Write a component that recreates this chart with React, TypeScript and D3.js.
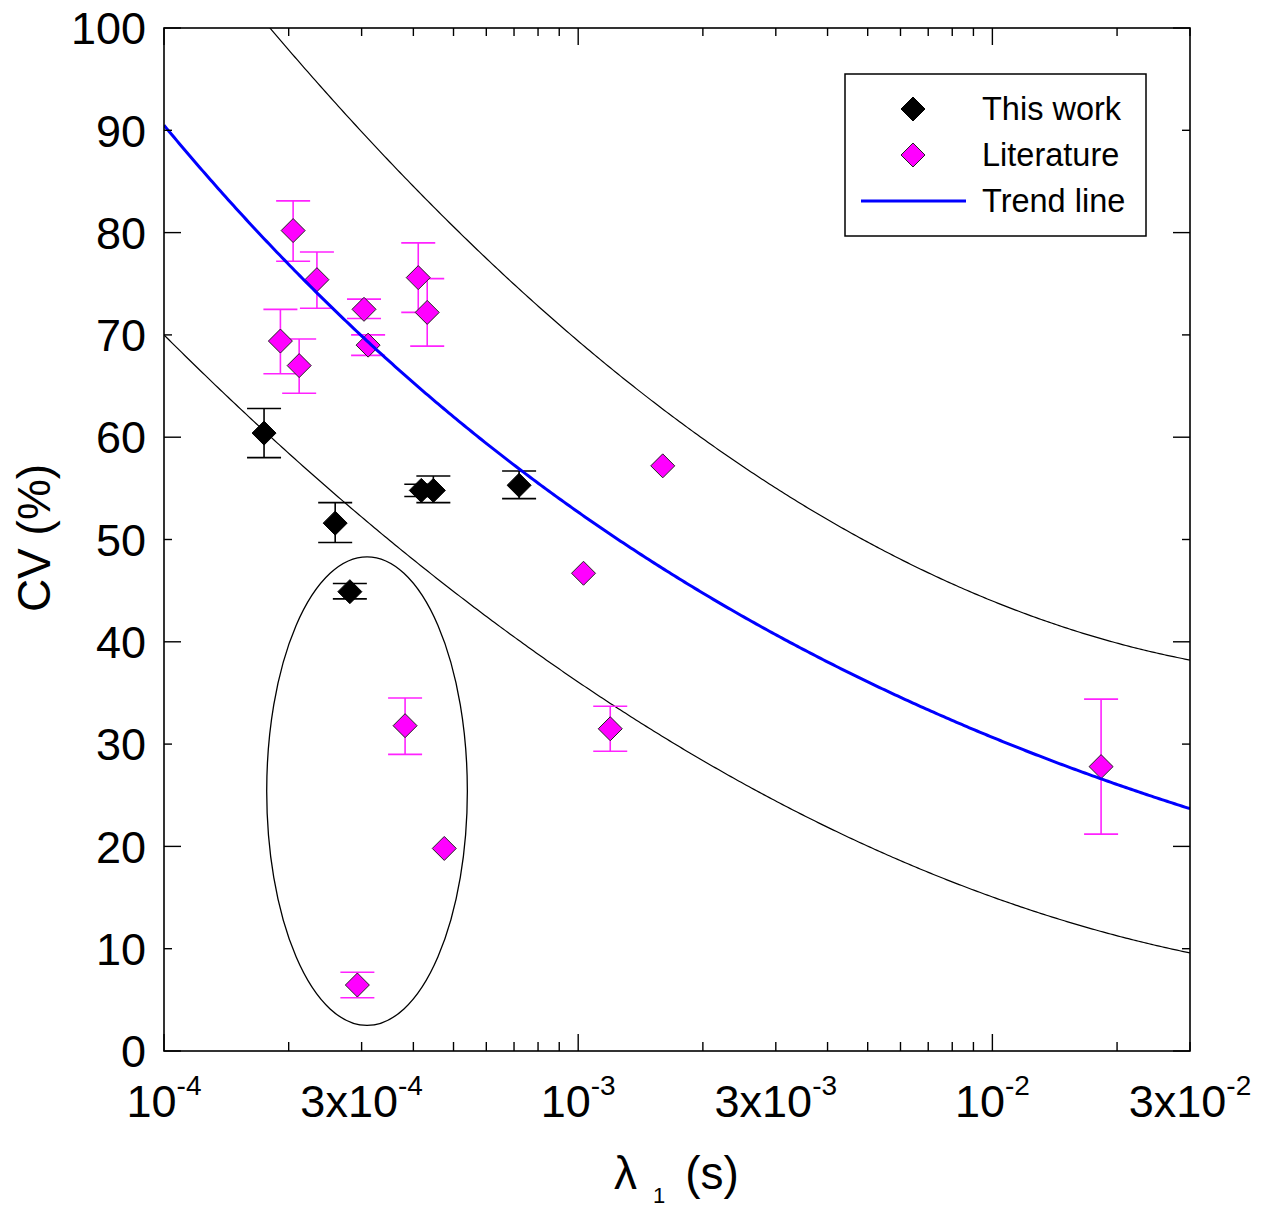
import React from "react";
import * as d3 from "d3";

// This work: relaxation time λ1 (s), CV (%), error bar top/bottom
const workLambda = [1.744e-4, 2.59e-4, 2.81e-4, 4.18e-4, 4.47e-4, 7.2e-4];
const workCV = [60.4, 51.6, 44.9, 54.8, 54.8, 55.3];
const workHi = [62.8, 53.6, 45.7, 55.4, 56.2, 56.7];
const workLo = [58.0, 49.7, 44.2, 54.2, 53.6, 54.0];

// Literature values (null = no error bar reported)
const litLambda = [
  2.05e-4, 2.34e-4, 1.91e-4, 2.12e-4, 3.04e-4, 3.11e-4, 4.11e-4, 4.32e-4,
  3.82e-4, 4.75e-4, 2.93e-4, 1.03e-3, 1.6e-3, 1.195e-3, 1.83e-2,
];
const litCV = [80.2, 75.4, 69.4, 67.0, 72.5, 69.0, 75.6, 72.2, 31.8, 19.8, 6.45, 46.7, 57.2, 31.5, 27.8];
const litHi: (number | null)[] = [83.1, 78.1, 72.5, 69.6, 73.5, 70.0, 79.0, 75.5, 34.5, null, 7.7, null, null, 33.7, 34.4];
const litLo: (number | null)[] = [77.2, 72.6, 66.2, 64.3, 71.6, 68.0, 72.2, 68.9, 29.0, null, 5.2, null, null, 29.3, 21.2];

// Axis ticks
const yTicks = [0, 10, 20, 30, 40, 50, 60, 70, 80, 90, 100];
const xLabels = [
  { v: 1e-4, pre: "10", sup: "-4" },
  { v: 3e-4, pre: "3x10", sup: "-4" },
  { v: 1e-3, pre: "10", sup: "-3" },
  { v: 3e-3, pre: "3x10", sup: "-3" },
  { v: 1e-2, pre: "10", sup: "-2" },
  { v: 3e-2, pre: "3x10", sup: "-2" },
];

// Trend line: CV = A * λ^B
const trendA = 10.39;
const trendB = -0.235;
// Envelope curves: CV = c0 + c1*u + c2*u^2, u = log10(λ / 1e-4)
const upperCoef = [112.83, -52.44, 9.01];
const lowerCoef = [70.0, -40.39, 6.46];

// Encircled group (λ range and CV range)
const groupLambda = [1.77e-4, 5.4e-4];
const groupCV = [2.5, 48.3];

const FONT = "'Liberation Sans', Arial, Helvetica, sans-serif";

export default function App() {
  const left = 164, right = 1190, top = 28, bottom = 1051;
  const x = d3.scaleLog().domain([1e-4, 3e-2]).range([left, right]);
  const y = d3.scaleLinear().domain([0, 100]).range([bottom, top]);

  const samples = d3.range(0, 401).map((i) => Math.pow(10, -4 + (Math.log10(300) * i) / 400));
  const line = d3
    .line<[number, number]>()
    .x((d) => x(d[0]))
    .y((d) => y(d[1]));
  const poly = (c: number[], l: number) => {
    const u = Math.log10(l / 1e-4);
    return c[0] + c[1] * u + c[2] * u * u;
  };
  const trendPath = line(samples.map((l) => [l, trendA * Math.pow(l, trendB)]));
  const upperPath = line(samples.map((l) => [l, poly(upperCoef, l)]));
  const lowerPath = line(samples.map((l) => [l, poly(lowerCoef, l)]));

  // minor/major x ticks
  const xMinor: number[] = [];
  const xMajor: number[] = [1e-4, 1e-3, 1e-2];
  [1e-4, 1e-3, 1e-2].forEach((dec) => {
    for (let k = 2; k <= 9; k++) {
      const v = dec * k;
      if (v <= 3e-2) xMinor.push(v);
    }
  });

  const diamond = (cx: number, cy: number, r: number) =>
    `M${cx},${cy - r}L${cx + r},${cy}L${cx},${cy + r}L${cx - r},${cy}Z`;

  const cap = 17;
  const ex = x(groupLambda[0]), ex2 = x(groupLambda[1]);
  const ey = y(groupCV[1]), ey2 = y(groupCV[0]);

  return (
    <svg
      width={1273}
      height={1208}
      style={{ position: "absolute", left: 0, top: 0, background: "#fff" }}
      fontFamily={FONT}
    >
      <defs>
        <clipPath id="plotClip">
          <rect x={left} y={top} width={right - left} height={bottom - top} />
        </clipPath>
      </defs>

      {/* envelope curves */}
      <g clipPath="url(#plotClip)" fill="none" stroke="#000" strokeWidth={1.2}>
        <path d={upperPath || ""} />
        <path d={lowerPath || ""} />
      </g>

      {/* ellipse around the group */}
      <ellipse
        cx={(ex + ex2) / 2}
        cy={(ey + ey2) / 2}
        rx={(ex2 - ex) / 2}
        ry={(ey2 - ey) / 2}
        fill="none"
        stroke="#000"
        strokeWidth={1.3}
      />

      {/* error bars: literature */}
      <g stroke="#ff22ff" strokeWidth={1.6}>
        {litLambda.map((l, i) => {
          const hi = litHi[i], lo = litLo[i];
          if (hi == null || lo == null) return null;
          const cx = x(l);
          return (
            <g key={i}>
              <line x1={cx} x2={cx} y1={y(hi)} y2={y(lo)} />
              <line x1={cx - cap} x2={cx + cap} y1={y(hi)} y2={y(hi)} />
              <line x1={cx - cap} x2={cx + cap} y1={y(lo)} y2={y(lo)} />
            </g>
          );
        })}
      </g>

      {/* error bars: this work */}
      <g stroke="#000" strokeWidth={1.6}>
        {workLambda.map((l, i) => {
          const cx = x(l);
          return (
            <g key={i}>
              <line x1={cx} x2={cx} y1={y(workHi[i])} y2={y(workLo[i])} />
              <line x1={cx - cap} x2={cx + cap} y1={y(workHi[i])} y2={y(workHi[i])} />
              <line x1={cx - cap} x2={cx + cap} y1={y(workLo[i])} y2={y(workLo[i])} />
            </g>
          );
        })}
      </g>

      {/* markers */}
      {litLambda.map((l, i) => (
        <path key={"l" + i} d={diamond(x(l), y(litCV[i]), 12)} fill="#ff00ff" stroke="#222" strokeWidth={1} />
      ))}
      {workLambda.map((l, i) => (
        <path key={"w" + i} d={diamond(x(l), y(workCV[i]), 12)} fill="#000" stroke="#000" strokeWidth={1} />
      ))}

      {/* trend line */}
      <g clipPath="url(#plotClip)">
        <path d={trendPath || ""} fill="none" stroke="#0000ff" strokeWidth={3} />
      </g>

      {/* frame */}
      <rect x={left} y={top} width={right - left} height={bottom - top} fill="none" stroke="#000" strokeWidth={1.6} />

      {/* y ticks (left and right, inward) */}
      <g stroke="#000" strokeWidth={1.4}>
        {yTicks.map((t) => {
          const len = t % 20 === 0 ? 17 : 8;
          return (
            <g key={t}>
              <line x1={left} x2={left + len} y1={y(t)} y2={y(t)} />
              <line x1={right} x2={right - len} y1={y(t)} y2={y(t)} />
            </g>
          );
        })}
        {xMinor.map((v) => (
          <g key={"m" + v}>
            <line x1={x(v)} x2={x(v)} y1={bottom} y2={bottom - 9} />
            <line x1={x(v)} x2={x(v)} y1={top} y2={top + 8} />
          </g>
        ))}
        {xMajor.map((v) => (
          <g key={"M" + v}>
            <line x1={x(v)} x2={x(v)} y1={bottom} y2={bottom - 17} />
            <line x1={x(v)} x2={x(v)} y1={top} y2={top + 17} />
          </g>
        ))}
      </g>

      {/* y tick labels */}
      <g fontSize={45} textAnchor="end" fill="#000">
        {yTicks.map((t) => (
          <text key={t} x={146} y={y(t)} dy="0.36em">
            {t}
          </text>
        ))}
      </g>

      {/* x tick labels */}
      <g fill="#000" textAnchor="middle">
        {xLabels.map((lab) => (
          <text key={lab.v} x={x(lab.v)} y={1117} fontSize={45}>
            <tspan>{lab.pre}</tspan>
            <tspan fontSize={28} dy={-22}>
              {lab.sup}
            </tspan>
          </text>
        ))}
      </g>

      {/* axis titles */}
      <text
        transform="translate(50,538) rotate(-90)"
        textAnchor="middle"
        fontSize={46}
        fill="#000"
      >
        CV (%)
      </text>
      <text x={614} y={1189} fontSize={46} fill="#000">
        <tspan>λ</tspan>
        <tspan dx={16} dy={14} fontSize={22}>
          1
        </tspan>
        <tspan dx={20} dy={-14}>
          (s)
        </tspan>
      </text>

      {/* legend */}
      <g>
        <rect x={845} y={74} width={301} height={162} fill="#fff" stroke="#000" strokeWidth={1.5} />
        <path d={diamond(913, 109, 12)} fill="#000" stroke="#000" strokeWidth={1} />
        <path d={diamond(913, 155, 12)} fill="#ff00ff" stroke="#222" strokeWidth={1} />
        <line x1={861} x2={966} y1={201} y2={201} stroke="#0000ff" strokeWidth={3} />
        <g fontSize={32.5} fill="#000">
          <text x={982} y={120}>This work</text>
          <text x={982} y={166}>Literature</text>
          <text x={982} y={212}>Trend line</text>
        </g>
      </g>
    </svg>
  );
}
